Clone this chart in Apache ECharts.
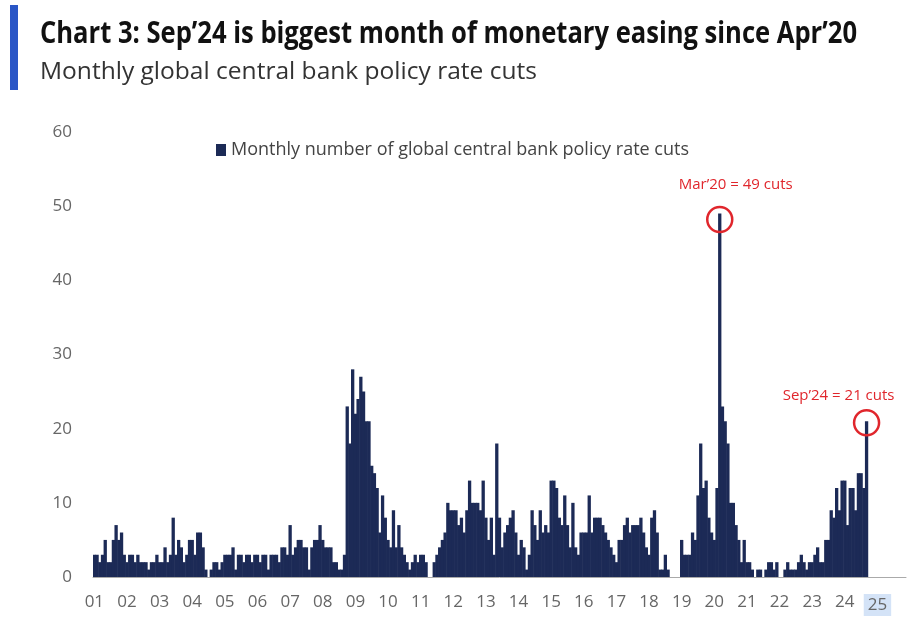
<!DOCTYPE html>
<html>
<head>
<meta charset="utf-8">
<script src="https://cdn.jsdelivr.net/npm/echarts@6/dist/echarts.min.js"></script>
<style>
html,body{margin:0;padding:0;background:#fff;}
#chart{width:915px;height:624px;}
</style>
</head>
<body>
<div id="chart"></div>
<script>
// Tick labels (two-digit years)
const yearLabels = ['01','02','03','04','05','06','07','08','09','10','11','12','13','14','15','16','17','18','19','20','21','22','23','24','25'];

// Monthly number of global central bank policy rate cuts, by year
const y2001 = [3,3,2,3,5,2,2,5,7,5,6,3];
const y2002 = [2,3,3,2,3,2,2,2,1,2,2,3];
const y2003 = [2,2,4,2,3,8,3,5,4,2,3,5];
const y2004 = [5,3,6,6,4,1,0,1,2,2,1,2];
const y2005 = [3,3,3,4,1,3,3,2,3,3,2,3];
const y2006 = [3,2,3,3,1,3,3,3,2,4,4,3];
const y2007 = [7,3,4,5,5,4,4,1,4,5,5,7];
const y2008 = [5,4,4,4,2,2,1,1,3,23,18,28];
const y2009 = [22,24,27,25,21,21,15,14,12,6,11,8];
const y2010 = [5,4,9,4,7,4,3,2,1,2,3,2];
const y2011 = [3,3,2,0,0,2,3,4,5,6,10,9];
const y2012 = [9,9,7,8,6,9,13,10,10,10,9,13];
const y2013 = [8,5,8,3,18,8,4,6,7,8,9,6];
const y2014 = [3,5,4,1,3,9,7,5,9,6,7,6];
const y2015 = [13,13,12,8,7,11,7,4,10,4,3,6];
const y2016 = [6,6,11,6,8,8,8,7,6,5,4,3];
const y2017 = [2,5,5,7,8,6,7,7,7,8,6,4];
const y2018 = [3,8,9,6,1,1,3,1,0,0,0,0];
const y2019 = [5,3,3,3,6,5,11,18,12,13,8,6];
const y2020 = [5,12,49,23,21,18,10,10,7,5,2,5];
const y2021 = [2,2,1,0,1,1,0,1,2,2,1,2];
const y2022 = [0,0,1,2,1,1,1,2,3,2,1,2];
const y2023 = [2,3,4,2,2,5,5,9,8,12,9,13];
const y2024 = [13,7,12,12,9,14,14,12,21];

const cuts = [].concat(y2001,y2002,y2003,y2004,y2005,y2006,y2007,y2008,y2009,y2010,
  y2011,y2012,y2013,y2014,y2015,y2016,y2017,y2018,y2019,y2020,y2021,y2022,y2023,y2024);

// Monthly categories Jan 2001 .. Nov 2025
const categories = [];
yearLabels.forEach(function (yy) {
  for (let m = 1; m <= 12; m++) {
    if (yy === '25' && m > 11) break;
    categories.push(yy + '-' + (m < 10 ? '0' + m : m));
  }
});

const seriesName = 'Monthly number of global central bank policy rate cuts';
const titleText = 'Chart 3: Sep\u201924 is biggest month of monetary easing since Apr\u201920';
const subText = 'Monthly global central bank policy rate cuts';
const titleFont = 'bold 30px "Open Sans"';
const subFont = '23px "Open Sans"';

function fitScale(text, font, target) {
  const c = document.createElement('canvas').getContext('2d');
  c.font = font;
  return target / c.measureText(text).width;
}

const chart = echarts.init(document.getElementById('chart'));
const red = '#e0262c';
const navy = '#1c2a56';

chart.setOption({
  animation: false,
  backgroundColor: '#fff',
  graphic: [
    { type: 'rect', shape: { x: 10, y: 5, width: 8, height: 85 }, style: { fill: '#2a56c6' } },
    { type: 'text', x: 40, y: 34, scaleX: fitScale(titleText, titleFont, 817),
      style: { text: titleText, font: titleFont, fill: '#111', verticalAlign: 'middle' } },
    { type: 'text', x: 40, y: 72, scaleX: fitScale(subText, subFont, 497),
      style: { text: subText, font: subFont, fill: '#333', verticalAlign: 'middle' } }
  ],
  legend: {
    left: 211, top: 136,
    icon: 'rect', itemWidth: 10, itemHeight: 12, itemGap: 6,
    textStyle: { fontFamily: 'Open Sans', fontSize: 18, color: '#444' },
    data: [seriesName]
  },
  grid: { left: 93, top: 132, width: 813, height: 445, containLabel: false },
  xAxis: {
    type: 'category',
    data: categories,
    boundaryGap: true,
    axisLine: { lineStyle: { color: '#aaa', width: 1 } },
    axisTick: { show: false },
    axisLabel: {
      interval: function (idx) { return idx % 12 === 0; },
      formatter: function (val) {
        const yy = val.slice(0, 2);
        return yy === '25' ? '{hl|' + yy + '}' : yy;
      },
      fontFamily: 'Open Sans', fontSize: 17, color: '#666', margin: 17,
      rich: { hl: { backgroundColor: '#d4e3f7', padding: [3, 4, 2, 4], fontFamily: 'Open Sans', fontSize: 17, color: '#666' } }
    }
  },
  yAxis: {
    type: 'value', min: 0, max: 60, interval: 10,
    splitLine: { show: false },
    axisLine: { show: false },
    axisTick: { show: false },
    axisLabel: { fontFamily: 'Open Sans', fontSize: 17, color: '#666', margin: 21 }
  },
  series: [{
    name: seriesName,
    type: 'bar',
    data: cuts,
    barWidth: 3.3,
    itemStyle: { color: navy },
    markPoint: {
      symbol: 'circle',
      symbolSize: 25,
      itemStyle: { color: 'rgba(0,0,0,0)', borderColor: red, borderWidth: 2.5 },
      label: { show: true, color: red, fontFamily: 'Open Sans', fontSize: 15 },
      data: [
        { coord: ['20-03', 48.2], label: { formatter: 'Mar\u201920 = 49 cuts', position: 'inside', offset: [16, -35] } },
        { coord: ['24-09', 20.8], label: { formatter: 'Sep\u201924 = 21 cuts', position: 'inside', offset: [-28, -27] } }
      ]
    }
  }]
});
</script>
</body>
</html>
